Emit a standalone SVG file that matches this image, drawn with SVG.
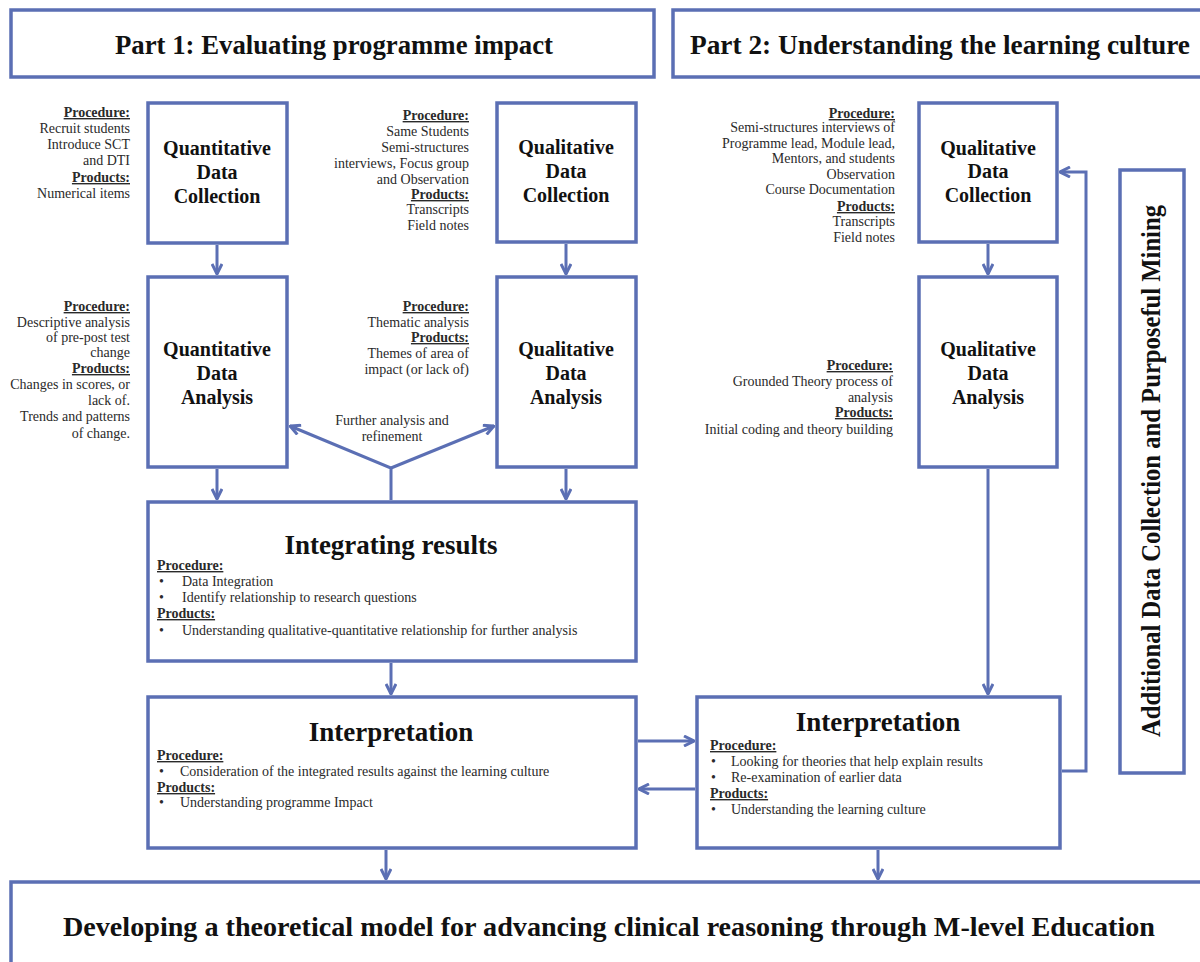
<svg xmlns="http://www.w3.org/2000/svg" width="1200" height="962" viewBox="0 0 1200 962">
  <style>
    .box { fill: #ffffff; stroke: #5b6fb4; stroke-width: 3.5; }
    .con { fill: none; stroke: #5b6fb4; stroke-width: 3; }
    .hdr { font-family: "Liberation Serif", "DejaVu Serif", serif; font-weight: bold; font-size: 27px; fill: #111; }
    .lbl { font-family: "Liberation Serif", "DejaVu Serif", serif; font-weight: bold; font-size: 20px; fill: #111; text-anchor: middle; }
    .ttl { font-family: "Liberation Serif", "DejaVu Serif", serif; font-weight: bold; font-size: 27px; fill: #111; text-anchor: middle; }
    .sm { font-family: "Liberation Serif", "DejaVu Serif", serif; font-size: 14px; fill: #2a2a2a; }
    .r { text-anchor: end; }
    .c { text-anchor: middle; }
    .u { font-weight: bold; text-decoration: underline; }
  </style>
  <defs>
    <marker id="arr" viewBox="0 0 12 12" refX="11" refY="6" markerWidth="12" markerHeight="12" markerUnits="userSpaceOnUse" orient="auto">
      <path d="M1,1 L11,6 L1,11" fill="none" stroke="#5b6fb4" stroke-width="3" stroke-linejoin="miter"/>
    </marker>
  </defs>
  <rect width="1200" height="962" fill="#ffffff"/>

  <!-- connectors -->
  <g id="connectors">
    <line class="con" x1="217" y1="245" x2="217" y2="274" marker-end="url(#arr)"/>
    <line class="con" x1="566" y1="244" x2="566" y2="274" marker-end="url(#arr)"/>
    <line class="con" x1="988" y1="244" x2="988" y2="274" marker-end="url(#arr)"/>
    <line class="con" x1="217" y1="469" x2="217" y2="499" marker-end="url(#arr)"/>
    <line class="con" x1="566" y1="469" x2="566" y2="499" marker-end="url(#arr)"/>
    <polyline class="con" points="391,500 391,468 290,426" marker-end="url(#arr)"/>
    <polyline class="con" points="391,468 494,426" marker-end="url(#arr)"/>
    <line class="con" x1="391" y1="663" x2="391" y2="694" marker-end="url(#arr)"/>
    <line class="con" x1="638" y1="741" x2="694" y2="741" marker-end="url(#arr)"/>
    <line class="con" x1="695" y1="789" x2="639" y2="789" marker-end="url(#arr)"/>
    <line class="con" x1="988" y1="469" x2="988" y2="694" marker-end="url(#arr)"/>
    <polyline class="con" points="1062,771 1086,771 1086,172 1060,172" marker-end="url(#arr)"/>
    <line class="con" x1="386" y1="850" x2="386" y2="879" marker-end="url(#arr)"/>
    <line class="con" x1="878" y1="850" x2="878" y2="879" marker-end="url(#arr)"/>
  </g>

  <!-- headers -->
  <g id="part1-header">
    <rect class="box" x="11" y="10" width="643" height="67"/>
    <text class="hdr" x="115" y="54" textLength="438" lengthAdjust="spacingAndGlyphs">Part 1: Evaluating programme impact</text>
  </g>
  <g id="part2-header">
    <rect class="box" x="673" y="10" width="540" height="67"/>
    <text class="hdr" x="690" y="54" textLength="500" lengthAdjust="spacingAndGlyphs">Part 2: Understanding the learning culture</text>
  </g>

  <!-- Part 1: quantitative collection -->
  <g id="quant-collection">
    <rect class="box" x="148" y="103" width="139" height="140"/>
    <text class="lbl" x="217" y="155">Quantitative</text>
    <text class="lbl" x="217" y="179">Data</text>
    <text class="lbl" x="217" y="203">Collection</text>
    <text class="sm r u" x="130" y="117">Procedure:</text>
    <text class="sm r" x="130" y="133">Recruit students</text>
    <text class="sm r" x="130" y="149">Introduce SCT</text>
    <text class="sm r" x="130" y="165">and DTI</text>
    <text class="sm r u" x="130" y="182">Products:</text>
    <text class="sm r" x="130" y="198">Numerical items</text>
  </g>

  <!-- Part 1: qualitative collection -->
  <g id="qual-collection-1">
    <rect class="box" x="497" y="103" width="139" height="139"/>
    <text class="lbl" x="566" y="154">Qualitative</text>
    <text class="lbl" x="566" y="178">Data</text>
    <text class="lbl" x="566" y="202">Collection</text>
    <text class="sm r u" x="469" y="120">Procedure:</text>
    <text class="sm r" x="469" y="136">Same Students</text>
    <text class="sm r" x="469" y="152">Semi-structures</text>
    <text class="sm r" x="469" y="168">interviews, Focus group</text>
    <text class="sm r" x="469" y="184">and Observation</text>
    <text class="sm r u" x="469" y="199">Products:</text>
    <text class="sm r" x="469" y="214">Transcripts</text>
    <text class="sm r" x="469" y="230">Field notes</text>
  </g>

  <!-- Part 1: quantitative analysis -->
  <g id="quant-analysis">
    <rect class="box" x="148" y="277" width="139" height="190"/>
    <text class="lbl" x="217" y="356">Quantitative</text>
    <text class="lbl" x="217" y="380">Data</text>
    <text class="lbl" x="217" y="404">Analysis</text>
    <text class="sm r u" x="130" y="311">Procedure:</text>
    <text class="sm r" x="130" y="327">Descriptive analysis</text>
    <text class="sm r" x="130" y="342">of pre-post test</text>
    <text class="sm r" x="130" y="357">change</text>
    <text class="sm r u" x="130" y="373">Products:</text>
    <text class="sm r" x="130" y="389">Changes in scores, or</text>
    <text class="sm r" x="130" y="405">lack of.</text>
    <text class="sm r" x="130" y="421">Trends and patterns</text>
    <text class="sm r" x="130" y="438">of change.</text>
  </g>

  <!-- Part 1: qualitative analysis -->
  <g id="qual-analysis-1">
    <rect class="box" x="497" y="277" width="139" height="190"/>
    <text class="lbl" x="566" y="356">Qualitative</text>
    <text class="lbl" x="566" y="380">Data</text>
    <text class="lbl" x="566" y="404">Analysis</text>
    <text class="sm r u" x="469" y="311">Procedure:</text>
    <text class="sm r" x="469" y="327">Thematic analysis</text>
    <text class="sm r u" x="469" y="342">Products:</text>
    <text class="sm r" x="469" y="358">Themes of area of</text>
    <text class="sm r" x="469" y="374">impact (or lack of)</text>
  </g>

  <g id="further-analysis-label">
    <text class="sm c" x="392" y="425">Further analysis and</text>
    <text class="sm c" x="392" y="441">refinement</text>
  </g>

  <!-- Part 2: qualitative collection -->
  <g id="qual-collection-2">
    <rect class="box" x="919" y="103" width="138" height="139"/>
    <text class="lbl" x="988" y="155">Qualitative</text>
    <text class="lbl" x="988" y="178">Data</text>
    <text class="lbl" x="988" y="202">Collection</text>
    <text class="sm r u" x="895" y="118">Procedure:</text>
    <text class="sm r" x="895" y="132">Semi-structures interviews of</text>
    <text class="sm r" x="895" y="148">Programme lead, Module lead,</text>
    <text class="sm r" x="895" y="163">Mentors, and students</text>
    <text class="sm r" x="895" y="179">Observation</text>
    <text class="sm r" x="895" y="194">Course Documentation</text>
    <text class="sm r u" x="895" y="211">Products:</text>
    <text class="sm r" x="895" y="226">Transcripts</text>
    <text class="sm r" x="895" y="242">Field notes</text>
  </g>

  <!-- Part 2: qualitative analysis -->
  <g id="qual-analysis-2">
    <rect class="box" x="919" y="277" width="138" height="190"/>
    <text class="lbl" x="988" y="356">Qualitative</text>
    <text class="lbl" x="988" y="380">Data</text>
    <text class="lbl" x="988" y="404">Analysis</text>
    <text class="sm r u" x="893" y="370">Procedure:</text>
    <text class="sm r" x="893" y="386">Grounded Theory process of</text>
    <text class="sm r" x="893" y="402">analysis</text>
    <text class="sm r u" x="893" y="417">Products:</text>
    <text class="sm r" x="893" y="434">Initial coding and theory building</text>
  </g>

  <!-- Integrating results -->
  <g id="integrating-results">
    <rect class="box" x="148" y="502" width="488" height="159"/>
    <text class="ttl" x="391" y="554">Integrating results</text>
    <text class="sm u" x="157" y="570">Procedure:</text>
    <text class="sm" x="159" y="586">•</text>
    <text class="sm" x="182" y="586">Data Integration</text>
    <text class="sm" x="159" y="602">•</text>
    <text class="sm" x="182" y="602">Identify relationship to research questions</text>
    <text class="sm u" x="157" y="618">Products:</text>
    <text class="sm" x="159" y="635">•</text>
    <text class="sm" x="182" y="635">Understanding qualitative-quantitative relationship for further analysis</text>
  </g>

  <!-- Interpretation, part 1 -->
  <g id="interpretation-1">
    <rect class="box" x="148" y="697" width="488" height="151"/>
    <text class="ttl" x="391" y="741">Interpretation</text>
    <text class="sm u" x="157" y="760">Procedure:</text>
    <text class="sm" x="159" y="776">•</text>
    <text class="sm" x="180" y="776">Consideration of the integrated results against the learning culture</text>
    <text class="sm u" x="157" y="792">Products:</text>
    <text class="sm" x="159" y="807">•</text>
    <text class="sm" x="180" y="807">Understanding programme Impact</text>
  </g>

  <!-- Interpretation, part 2 -->
  <g id="interpretation-2">
    <rect class="box" x="697" y="697" width="363" height="151"/>
    <text class="ttl" x="878" y="731">Interpretation</text>
    <text class="sm u" x="710" y="750">Procedure:</text>
    <text class="sm" x="711" y="766">•</text>
    <text class="sm" x="731" y="766">Looking  for theories that help explain results</text>
    <text class="sm" x="711" y="782">•</text>
    <text class="sm" x="731" y="782">Re-examination of earlier data</text>
    <text class="sm u" x="710" y="798">Products:</text>
    <text class="sm" x="711" y="814">•</text>
    <text class="sm" x="731" y="814">Understanding the learning culture</text>
  </g>

  <!-- Side panel -->
  <g id="additional-data">
    <rect class="box" x="1120" y="170" width="64" height="603"/>
    <text class="hdr" transform="translate(1160,737) rotate(-90)" x="0" y="0" font-size="24" textLength="532" lengthAdjust="spacingAndGlyphs">Additional Data Collection and Purposeful Mining</text>
  </g>

  <!-- Final outcome -->
  <g id="theoretical-model">
    <rect class="box" x="11" y="882" width="1200" height="90"/>
    <text class="hdr" x="63" y="936" textLength="1092" lengthAdjust="spacingAndGlyphs">Developing a theoretical model for advancing clinical reasoning through M-level Education</text>
  </g>
</svg>
